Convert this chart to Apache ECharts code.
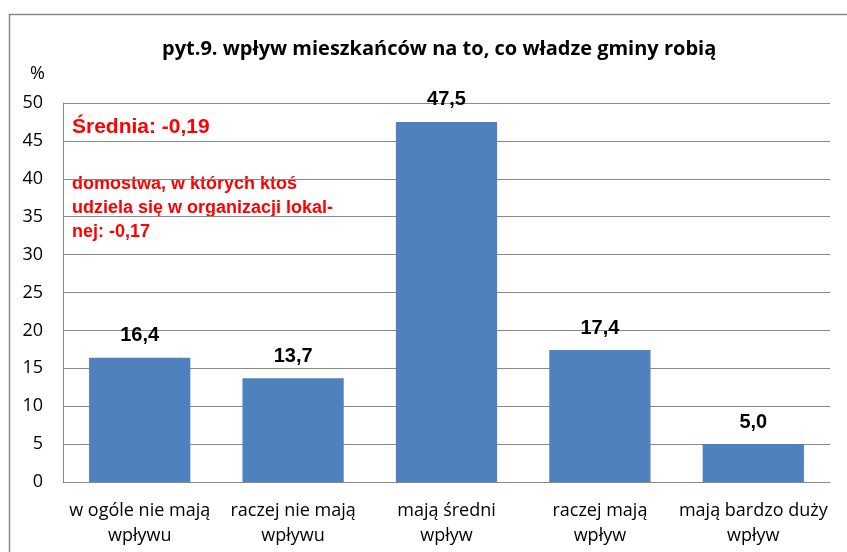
<!DOCTYPE html>
<html>
<head>
<meta charset="utf-8">
<script src="https://cdn.jsdelivr.net/npm/echarts@6/dist/echarts.min.js"></script>
<style>
  html, body { margin: 0; padding: 0; background: #fff; }
  #chart { width: 847px; height: 552px; }
</style>
</head>
<body>
<div id="chart"></div>
<script>
// dane z wykresu
var categories = ["w ogóle nie mają\nwpływu", "raczej nie mają\nwpływu", "mają średni\nwpływ", "raczej mają\nwpływ", "mają bardzo duży\nwpływ"];
var values = [16.4, 13.7, 47.5, 17.4, 5.0];
var titleText = "pyt.9. wpływ mieszkańców na to, co władze gminy robią";
var noteMean = "Średnia: -0,19";
var noteOrg = "domostwa, w których ktoś\nudziela się w organizacji lokal-\nnej: -0,17";

var chart = echarts.init(document.getElementById("chart"));
chart.setOption({
  animation: false,
  title: {
    text: titleText,
    left: 157,
    top: 34,
    textStyle: { fontFamily: "Open Sans", fontWeight: "bold", fontSize: 20, color: "#000" }
  },
  grid: { left: 63, right: 17, top: 103, bottom: 70 },
  xAxis: {
    type: "category",
    data: categories,
    axisLine: { lineStyle: { color: "#888" } },
    axisTick: { show: false },
    axisLabel: {
      interval: 0, margin: 16, lineHeight: 25,
      fontFamily: "Open Sans", fontSize: 18, color: "#000"
    }
  },
  yAxis: {
    type: "value",
    min: 0, max: 50, interval: 5,
    name: "%",
    nameLocation: "end",
    nameGap: 20,
    nameTextStyle: { fontFamily: "Open Sans", fontSize: 18, color: "#000", align: "right", padding: [0, 18, 0, 0] },
    axisLine: { show: true, lineStyle: { color: "#888" } },
    axisTick: { show: false },
    axisLabel: { margin: 20, fontFamily: "Open Sans", fontSize: 18, color: "#000" },
    splitLine: { lineStyle: { color: "#888" } }
  },
  series: [{
    type: "bar",
    data: values,
    barCategoryGap: "34%",
    itemStyle: { color: "#4F81BD" },
    label: {
      show: true,
      position: "top",
      distance: 12,
      fontFamily: "Liberation Sans",
      fontWeight: "bold",
      fontSize: 20,
      color: "#000",
      formatter: function (p) { return p.value.toFixed(1).replace(".", ","); }
    }
  }],
  graphic: [
    {
      type: "rect", left: 7, top: 12, silent: true,
      shape: { width: 860, height: 560 },
      style: { fill: "none", stroke: "#8a8a8a", lineWidth: 1.5 }
    },
    {
      type: "text", left: 72, top: 117,
      style: { text: noteMean, fill: "#ff0000", font: "bold 21px 'Liberation Sans'" }
    },
    {
      type: "text", left: 72, top: 172,
      style: { text: noteOrg, fill: "#ff0000", font: "bold 18px 'Liberation Sans'", lineHeight: 24 }
    }
  ]
});
</script>
</body>
</html>
